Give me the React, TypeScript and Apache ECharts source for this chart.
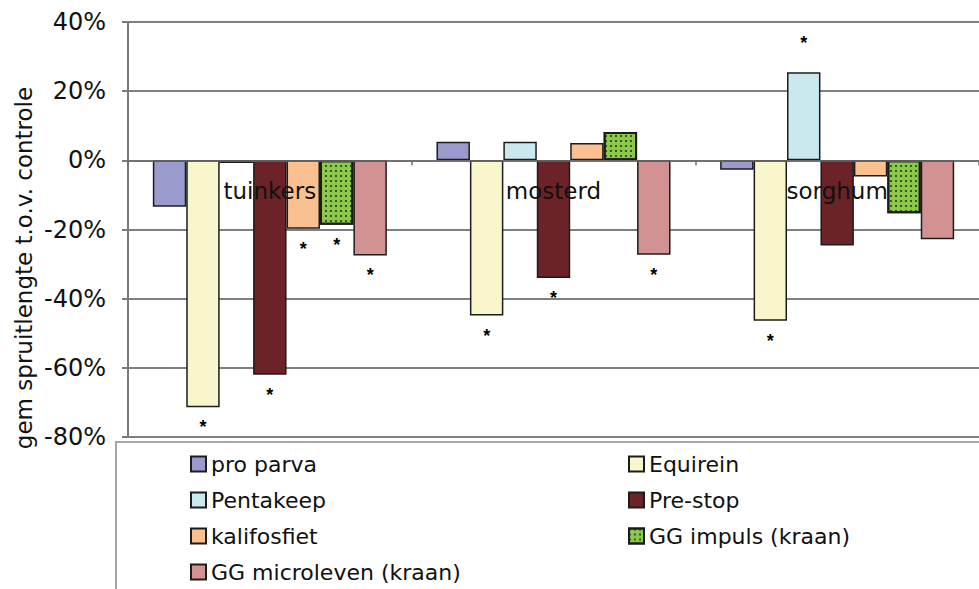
import React, { useEffect, useRef } from "react";
import * as echarts from "echarts";

const categories = ["tuinkers", "mosterd", "sorghum"];
const seriesNames = [
  "pro parva",
  "Equirein",
  "Pentakeep",
  "Pre-stop",
  "kalifosfiet",
  "GG impuls (kraan)",
  "GG microleven (kraan)",
];
const proParva = [-13.4, 5.4, -2.7];
const equirein = [-71.4, -44.9, -46.4];
const pentakeep = [-0.8, 5.4, 25.5];
const preStop = [-62.0, -34.0, -24.6];
const kalifosfiet = [-19.8, 5.0, -4.7];
const ggImpuls = [-18.6, 8.2, -15.3];
const ggMicroleven = [-27.5, -27.3, -22.8];

const sigProParva = [false, false, false];
const sigEquirein = [true, true, true];
const sigPentakeep = [false, false, true];
const sigPreStop = [true, true, false];
const sigKalifosfiet = [true, false, false];
const sigGgImpuls = [true, false, false];
const sigGgMicroleven = [true, true, false];

const yTicks = { min: -80, max: 40, interval: 20 };

const colors = ["#9A9ACD", "#FAF6CC", "#C9E9EF", "#6B2328", "#FAC08F", "#8CC84C", "#D29292"];
const FONT = '"DejaVu Sans", "Liberation Sans", Arial, sans-serif';

export default function App() {
  const ref = useRef<HTMLDivElement>(null);
  useEffect(() => {
    if (!ref.current) return;
    const chart = echarts.init(ref.current, undefined, { renderer: "svg" });
    const values = [proParva, equirein, pentakeep, preStop, kalifosfiet, ggImpuls, ggMicroleven];
    const sigs = [sigProParva, sigEquirein, sigPentakeep, sigPreStop, sigKalifosfiet, sigGgImpuls, sigGgMicroleven];

    const series = seriesNames.map((name, si) => ({
      name,
      type: "bar",
      barGap: "0%",
      barCategoryGap: "17.5%",
      itemStyle: {
        color: colors[si],
        borderColor: "#1c1c1c",
        borderWidth: si === 5 ? 2 : 1.5,
        ...(si === 5
          ? {
              decal: {
                symbol: "rect",
                symbolSize: 1,
                color: "rgba(25,50,10,0.75)",
                dashArrayX: [1.5, 3],
                dashArrayY: [2, 2.5],
                rotation: 0,
              },
            }
          : {}),
      },
      data: values[si].map((v, ci) => ({
        value: v,
        label: {
          show: sigs[si][ci],
          position: v < 0 ? "bottom" : "top",
          distance: v < 0 ? 11 : 20,
          formatter: "*",
          fontSize: 18,
          fontWeight: "bold",
          fontFamily: '"Liberation Sans", Arial, sans-serif',
          color: "#000",
        },
      })),
    }));

    const legendCommon = {
      orient: "vertical",
      top: 452,
      height: 200,
      padding: 0,
      itemWidth: 15,
      itemHeight: 15,
      itemGap: 12,
      icon: "rect",
      selectedMode: false,
      textStyle: { fontSize: 22, fontFamily: FONT, color: "#111", lineHeight: 24 },
    };

    const baseGraphic: any[] = [
      {
        id: "legendBox",
        type: "rect",
        shape: { x: 116, y: 442, width: 900, height: 200 },
        style: { fill: "none", stroke: "#a6a6a6", lineWidth: 2 },
        z: -1,
      },
      {
        id: "yName",
        type: "text",
        x: 24,
        y: 268,
        rotation: Math.PI / 2,
        style: {
          text: "gem spruitlengte t.o.v. controle",
          font: `23px ${FONT}`,
          fill: "#111",
          textAlign: "center",
          textVerticalAlign: "middle",
        },
      },
    ];

    chart.setOption({
      animation: false,
      backgroundColor: "#ffffff",
      grid: { left: 128, top: 22, width: 858, height: 415, containLabel: false },
      xAxis: {
        type: "category",
        data: categories,
        z: 5,
        axisLine: { onZero: true, lineStyle: { color: "#6e6e6e", width: 1.5 } },
        axisTick: { show: true, length: 5, interval: 0, lineStyle: { color: "#6e6e6e", width: 1.5 } },
        axisLabel: { show: false },
        splitLine: { show: false },
      },
      yAxis: {
        type: "value",
        min: yTicks.min,
        max: yTicks.max,
        interval: yTicks.interval,
        axisLine: { show: true, lineStyle: { color: "#7a7a7a", width: 2 } },
        axisTick: { show: true, length: 6, lineStyle: { color: "#7a7a7a", width: 2 } },
        axisLabel: {
          margin: 22,
          fontSize: 24,
          fontFamily: FONT,
          color: "#111",
          formatter: (v: number) => `${v}%`,
        },
        splitLine: { show: true, lineStyle: { color: "#7f7f7f", width: 2 } },
      },
      legend: [
        { ...legendCommon, left: 190, data: [seriesNames[0], seriesNames[2], seriesNames[4], seriesNames[6]] },
        { ...legendCommon, left: 628, data: [seriesNames[1], seriesNames[3], seriesNames[5]] },
      ],
      graphic: baseGraphic,
      series,
    });

    const zeroY = chart.convertToPixel({ yAxisIndex: 0 }, 0) as number;
    const catLabels = categories.map((c, i) => ({
      id: "cat" + i,
      type: "text",
      x: chart.convertToPixel({ xAxisIndex: 0 }, c) as number,
      y: zeroY + 19,
      z: 10,
      style: {
        text: c,
        font: `23px ${FONT}`,
        fill: "#111",
        textAlign: "center",
        textVerticalAlign: "top",
      },
    }));
    chart.setOption({ graphic: [...baseGraphic, ...catLabels] });

    return () => chart.dispose();
  }, []);
  return (
    <div
      ref={ref}
      style={{ position: "absolute", left: 0, top: 0, width: 979, height: 589, background: "#fff" }}
    />
  );
}
